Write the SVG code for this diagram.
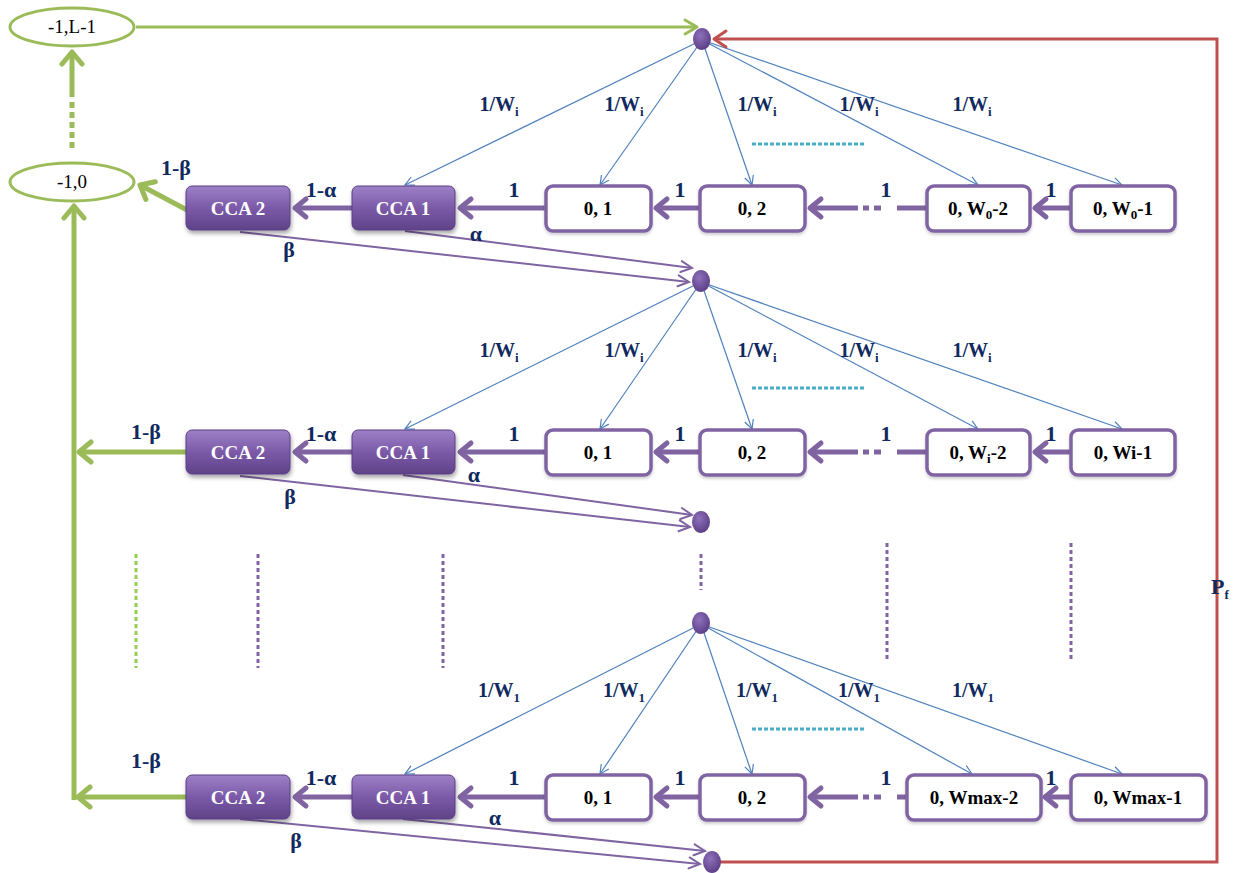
<svg xmlns="http://www.w3.org/2000/svg" width="1243" height="873" viewBox="0 0 1243 873">
<style>
.bg{fill:#ffffff}
.cca rect{fill:url(#gCCA);stroke:#5b3f86;stroke-width:1;filter:url(#sh)}
.cca text{fill:#ffffff;font-family:"Liberation Serif",serif;font-weight:bold;font-size:19px;text-anchor:middle}
.st rect{fill:#ffffff;stroke:#8064a2;stroke-width:3.5;filter:url(#sh2)}
.st text{fill:#000000;font-family:"Liberation Serif",serif;font-weight:bold;font-size:19px;text-anchor:middle}
.el ellipse{fill:#ffffff;stroke:#9bbb59;stroke-width:3}
.el text{fill:#000000;font-family:"Liberation Serif",serif;font-size:19px;text-anchor:middle}
.dot{fill:url(#gDot)}
.bl{fill:none;stroke:#4f81bd;stroke-width:1.2;marker-end:url(#ahB)}
.pt{fill:none;stroke:#8064a2;stroke-width:5}
.pta{marker-end:url(#ahP)}
.pa{fill:none;stroke:#8064a2;stroke-width:2;marker-end:url(#ahT)}
.gr{fill:none;stroke:#9bbb59;stroke-width:5}
.gra{marker-end:url(#ahG)}
.rd{fill:none;stroke:#c0504d;stroke-width:3;marker-end:url(#ahR)}
.dp{fill:none;stroke:#8064a2;stroke-width:3;stroke-dasharray:4 3}
.dg{fill:none;stroke:#92d050;stroke-width:3;stroke-dasharray:4 3}
.dc{fill:none;stroke:#4bacc6;stroke-width:3;stroke-dasharray:4 2}
.lb{fill:#10295e;font-family:"Liberation Serif",serif;font-weight:bold;font-size:20px;text-anchor:middle}
.lb1{fill:#10295e;font-family:"Liberation Serif",serif;font-weight:bold;font-size:22px;text-anchor:middle}
.sub{font-size:13px}
</style>
<defs>
<linearGradient id="gCCA" x1="0" y1="0" x2="0" y2="1">
<stop offset="0" stop-color="#9d80c6"/>
<stop offset="0.5" stop-color="#7b5aa8"/>
<stop offset="1" stop-color="#5f4288"/>
</linearGradient>
<radialGradient id="gDot" cx="0.4" cy="0.35" r="0.7">
<stop offset="0" stop-color="#8f70bb"/>
<stop offset="1" stop-color="#5a3d85"/>
</radialGradient>
<filter id="sh" x="-20%" y="-20%" width="140%" height="160%">
<feDropShadow dx="1" dy="3" stdDeviation="2" flood-color="#000" flood-opacity="0.35"/>
</filter>
<filter id="sh2" x="-20%" y="-20%" width="140%" height="160%">
<feDropShadow dx="0" dy="2" stdDeviation="1.5" flood-color="#000" flood-opacity="0.2"/>
</filter>
<marker id="ahP" markerUnits="userSpaceOnUse" viewBox="-16 -13 21 26" markerWidth="21" markerHeight="26" refX="0" refY="0" orient="auto">
<path d="M-11,-9 L0,0 L-11,9" fill="none" stroke="#8064a2" stroke-width="5" stroke-linecap="round" stroke-linejoin="round"/>
</marker>
<marker id="ahG" markerUnits="userSpaceOnUse" viewBox="-16 -13 21 26" markerWidth="21" markerHeight="26" refX="0" refY="0" orient="auto">
<path d="M-12,-10 L0,0 L-12,10" fill="none" stroke="#9bbb59" stroke-width="5" stroke-linecap="round" stroke-linejoin="round"/>
</marker>
<marker id="ahG3" markerUnits="userSpaceOnUse" viewBox="-16 -11 20 22" markerWidth="20" markerHeight="22" refX="0" refY="0" orient="auto">
<path d="M-12,-7 L0,0 L-12,7" fill="none" stroke="#9bbb59" stroke-width="3" stroke-linecap="round" stroke-linejoin="round"/>
</marker>
<marker id="ahB" markerUnits="userSpaceOnUse" viewBox="-12 -7 14 14" markerWidth="14" markerHeight="14" refX="0" refY="0" orient="auto">
<path d="M-9,-4.5 L0,0 L-9,4.5" fill="none" stroke="#4f81bd" stroke-width="1.2"/>
</marker>
<marker id="ahT" markerUnits="userSpaceOnUse" viewBox="-14 -8 17 16" markerWidth="17" markerHeight="16" refX="0" refY="0" orient="auto">
<path d="M-11,-5.5 L0,0 L-11,5.5" fill="none" stroke="#8064a2" stroke-width="2" stroke-linecap="round"/>
</marker>
<marker id="ahR" markerUnits="userSpaceOnUse" viewBox="-16 -11 20 22" markerWidth="20" markerHeight="22" refX="0" refY="0" orient="auto">
<path d="M-12,-8 L0,0 L-12,8" fill="none" stroke="#c0504d" stroke-width="3" stroke-linecap="round" stroke-linejoin="round"/>
</marker>
</defs>
<rect class="bg" x="0" y="0" width="1243" height="873"/>

<g id="connectors">
<path class="bl" d="M702,40 L405,185"/>
<path class="bl" d="M702,40 L600,185"/>
<path class="bl" d="M702,40 L752,185"/>
<path class="bl" d="M702,40 L978,185"/>
<path class="bl" d="M702,40 L1122,185"/>
<path class="bl" d="M701,282 L405,429"/>
<path class="bl" d="M701,282 L600,429"/>
<path class="bl" d="M701,282 L752,429"/>
<path class="bl" d="M701,282 L978,429"/>
<path class="bl" d="M701,282 L1122,429"/>
<path class="bl" d="M701,624 L405,774"/>
<path class="bl" d="M701,624 L600,774"/>
<path class="bl" d="M701,624 L752,774"/>
<path class="bl" d="M701,624 L972,774"/>
<path class="bl" d="M701,624 L1122,774"/>
<path class="dc" d="M752,144 L865,144"/>
<path class="dc" d="M752,388 L865,388"/>
<path class="dc" d="M752,729 L865,729"/>
<path class="pt pta" d="M1071,208 L1035,208"/>
<path class="pt" d="M927,208 L897,208 M863,208 L869,208 M874,208 L881,208"/>
<path class="pt pta" d="M858,208 L810,208"/>
<path class="pt pta" d="M700,208 L656,208"/>
<path class="pt pta" d="M546,208 L460,208"/>
<path class="pt pta" d="M352,208 L295,208"/>
<path class="pt pta" d="M1071,452 L1035,452"/>
<path class="pt" d="M927,452 L897,452 M863,452 L869,452 M874,452 L881,452"/>
<path class="pt pta" d="M858,452 L810,452"/>
<path class="pt pta" d="M700,452 L656,452"/>
<path class="pt pta" d="M546,452 L460,452"/>
<path class="pt pta" d="M352,452 L295,452"/>
<path class="pt pta" d="M1071,797 L1045,797"/>
<path class="pt" d="M907,797 L897,797 M863,797 L869,797 M874,797 L881,797"/>
<path class="pt pta" d="M858,797 L810,797"/>
<path class="pt pta" d="M700,797 L656,797"/>
<path class="pt pta" d="M546,797 L460,797"/>
<path class="pt pta" d="M352,797 L295,797"/>
<path class="pa" d="M405,231 L692,268"/>
<path class="pa" d="M240,232 L689,282"/>
<path class="pa" d="M403,475 L692,515"/>
<path class="pa" d="M240,476 L690,527"/>
<path class="pa" d="M403,819 L705,851"/>
<path class="pa" d="M240,819 L700,864"/>
<path fill="none" stroke="#9bbb59" stroke-width="3" marker-end="url(#ahG3)" d="M136,27 L697,27"/>
<path class="gr gra" d="M72,97 L72,52"/>
<path class="gr" stroke-dasharray="6 4" d="M72,148 L72,100"/>
<path class="gr gra" d="M74,800 L74,206"/>
<path class="gr gra" d="M186,452 L79,452"/>
<path class="gr gra" d="M186,797 L78,797"/>
<path class="gr gra" d="M187,210 L140,185"/>
<path class="rd" d="M720,862 L1217,862 L1217,39 L714,39"/>
<path class="dg" d="M136,554 L136,668"/>
<path class="dp" d="M258,554 L258,668"/>
<path class="dp" d="M443,554 L443,668"/>
<path class="dp" d="M701,554 L701,590"/>
<path class="dp" d="M887,543 L887,660"/>
<path class="dp" d="M1071,543 L1071,660"/>
</g>

<g id="labels">
<text class="lb" x="499" y="111">1/W<tspan class="sub" dy="5">i</tspan></text>
<text class="lb" x="624" y="111">1/W<tspan class="sub" dy="5">i</tspan></text>
<text class="lb" x="757" y="111">1/W<tspan class="sub" dy="5">i</tspan></text>
<text class="lb" x="859" y="111">1/W<tspan class="sub" dy="5">i</tspan></text>
<text class="lb" x="972" y="111">1/W<tspan class="sub" dy="5">i</tspan></text>
<text class="lb" x="499" y="357">1/W<tspan class="sub" dy="5">i</tspan></text>
<text class="lb" x="624" y="357">1/W<tspan class="sub" dy="5">i</tspan></text>
<text class="lb" x="757" y="357">1/W<tspan class="sub" dy="5">i</tspan></text>
<text class="lb" x="859" y="357">1/W<tspan class="sub" dy="5">i</tspan></text>
<text class="lb" x="972" y="357">1/W<tspan class="sub" dy="5">i</tspan></text>
<text class="lb" x="499" y="697">1/W<tspan class="sub" dy="5">1</tspan></text>
<text class="lb" x="624" y="697">1/W<tspan class="sub" dy="5">1</tspan></text>
<text class="lb" x="757" y="697">1/W<tspan class="sub" dy="5">1</tspan></text>
<text class="lb" x="859" y="697">1/W<tspan class="sub" dy="5">1</tspan></text>
<text class="lb" x="973" y="697">1/W<tspan class="sub" dy="5">1</tspan></text>

<text class="lb1" x="514" y="197">1</text>
<text class="lb1" x="680" y="197">1</text>
<text class="lb1" x="886" y="197">1</text>
<text class="lb1" x="1051" y="197">1</text>
<text class="lb1" x="514" y="441">1</text>
<text class="lb1" x="680" y="441">1</text>
<text class="lb1" x="886" y="441">1</text>
<text class="lb1" x="1051" y="441">1</text>
<text class="lb1" x="514" y="785">1</text>
<text class="lb1" x="680" y="785">1</text>
<text class="lb1" x="886" y="785">1</text>
<text class="lb1" x="1051" y="785">1</text>

<text class="lb1" x="321" y="197">1-α</text>
<text class="lb1" x="321" y="441">1-α</text>
<text class="lb1" x="321" y="785">1-α</text>
<text class="lb1" x="176" y="175">1-β</text>
<text class="lb1" x="146" y="439">1-β</text>
<text class="lb1" x="146" y="768">1-β</text>

<text class="lb1" x="476" y="241">α</text>
<text class="lb1" x="474" y="482">α</text>
<text class="lb1" x="495" y="825">α</text>
<text class="lb1" x="289" y="257">β</text>
<text class="lb1" x="290" y="504">β</text>
<text class="lb1" x="296" y="848">β</text>

<text class="lb1" x="1220" y="594" text-anchor="start">P<tspan class="sub" font-size="14px" dy="5">f</tspan></text>
</g>

<g id="node-L1" class="el"><ellipse cx="72" cy="27" rx="62" ry="19"/><text x="72" y="33">-1,L-1</text></g>
<g id="node-10" class="el"><ellipse cx="72" cy="182" rx="62" ry="19"/><text x="72" y="188">-1,0</text></g>

<g id="dot-1"><ellipse class="dot" cx="702" cy="39" rx="9" ry="11"/></g>
<g id="dot-2"><ellipse class="dot" cx="701" cy="281" rx="9" ry="11"/></g>
<g id="dot-3"><ellipse class="dot" cx="701" cy="522" rx="9" ry="11"/></g>
<g id="dot-4"><ellipse class="dot" cx="701" cy="623" rx="9" ry="11"/></g>
<g id="dot-5"><ellipse class="dot" cx="712" cy="862" rx="9" ry="11"/></g>

<g id="r1-cca2" class="cca"><rect x="186" y="186" width="104" height="44" rx="6"/><text x="238" y="215">CCA 2</text></g>
<g id="r1-cca1" class="cca"><rect x="352" y="186" width="103" height="44" rx="6"/><text x="403" y="215">CCA 1</text></g>
<g id="r1-01" class="st"><rect x="546" y="186" width="105" height="45" rx="7"/><text x="598" y="215">0, 1</text></g>
<g id="r1-02" class="st"><rect x="700" y="186" width="105" height="45" rx="7"/><text x="752" y="215">0, 2</text></g>
<g id="r1-0w2" class="st"><rect x="927" y="186" width="103" height="45" rx="7"/><text x="978" y="215">0, W<tspan class="sub" dy="4">0</tspan><tspan dy="-4">-2</tspan></text></g>
<g id="r1-0w1" class="st"><rect x="1071" y="186" width="104" height="45" rx="7"/><text x="1123" y="215">0, W<tspan class="sub" dy="4">0</tspan><tspan dy="-4">-1</tspan></text></g>

<g id="r2-cca2" class="cca"><rect x="186" y="430" width="104" height="44" rx="6"/><text x="238" y="459">CCA 2</text></g>
<g id="r2-cca1" class="cca"><rect x="352" y="430" width="103" height="44" rx="6"/><text x="403" y="459">CCA 1</text></g>
<g id="r2-01" class="st"><rect x="546" y="430" width="105" height="45" rx="7"/><text x="598" y="459">0, 1</text></g>
<g id="r2-02" class="st"><rect x="700" y="430" width="105" height="45" rx="7"/><text x="752" y="459">0, 2</text></g>
<g id="r2-0w2" class="st"><rect x="927" y="430" width="103" height="45" rx="7"/><text x="978" y="459">0, W<tspan class="sub" dy="4">i</tspan><tspan dy="-4">-2</tspan></text></g>
<g id="r2-0w1" class="st"><rect x="1071" y="430" width="104" height="45" rx="7"/><text x="1123" y="459">0, Wi-1</text></g>

<g id="r3-cca2" class="cca"><rect x="186" y="775" width="104" height="44" rx="6"/><text x="238" y="804">CCA 2</text></g>
<g id="r3-cca1" class="cca"><rect x="352" y="775" width="103" height="44" rx="6"/><text x="403" y="804">CCA 1</text></g>
<g id="r3-01" class="st"><rect x="546" y="775" width="105" height="45" rx="7"/><text x="598" y="804">0, 1</text></g>
<g id="r3-02" class="st"><rect x="700" y="775" width="105" height="45" rx="7"/><text x="752" y="804">0, 2</text></g>
<g id="r3-0w2" class="st"><rect x="907" y="775" width="134" height="45" rx="7"/><text x="974" y="804">0, Wmax-2</text></g>
<g id="r3-0w1" class="st"><rect x="1071" y="775" width="135" height="45" rx="7"/><text x="1138" y="804">0, Wmax-1</text></g>
</svg>
